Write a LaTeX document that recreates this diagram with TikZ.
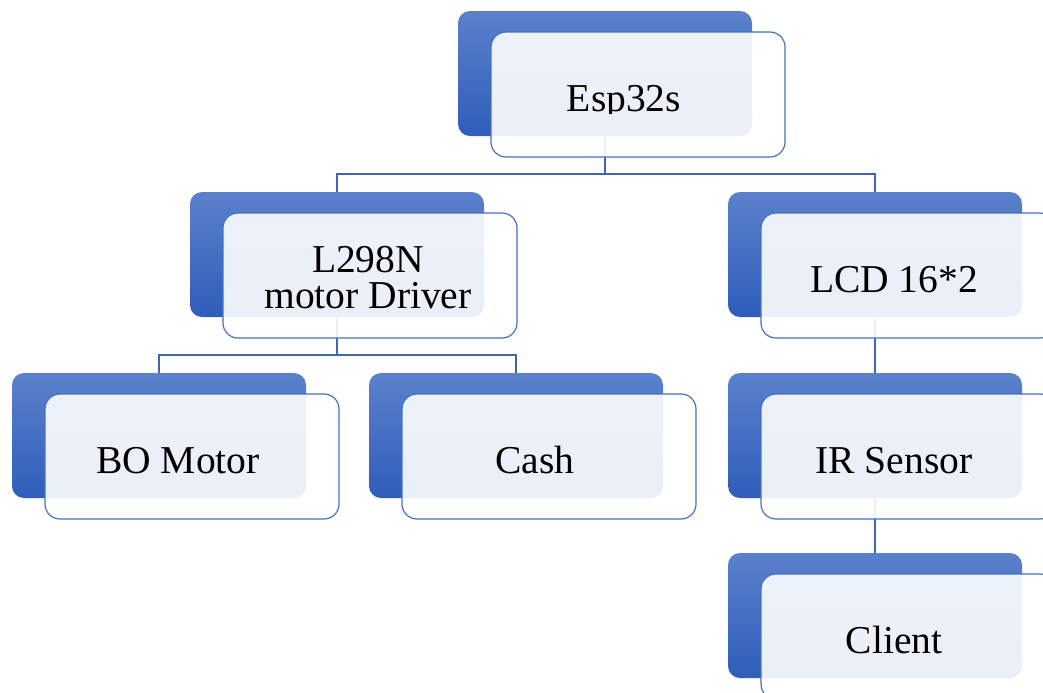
\documentclass[tikz,border=0pt]{standalone}
\usepackage{fontspec}
\setmainfont{Liberation Serif}
\usepackage{tikz}
\usetikzlibrary{calc,positioning}
\definecolor{smblue}  {HTML}{4472C4}
\definecolor{smtop}   {HTML}{5B81CB}
\definecolor{smbot}   {HTML}{2F5DBA}
\definecolor{smline}  {HTML}{3F64B0}
\tikzset{
  backbox/.style={minimum width=147pt, minimum height=62.5pt, inner sep=0pt,
    rounded corners=6pt, top color=smtop, bottom color=smbot, draw=none},
  frontbox/.style={minimum width=147pt, minimum height=62.5pt, inner sep=0pt,
    rounded corners=7.5pt, draw=smblue, line width=0.6pt, fill=white, fill opacity=0.9},
  boxtext/.style={anchor=base, inner sep=0pt, align=center,
    font=\fontsize{19.75}{18}\selectfont},
  link/.style={draw=smline, line width=0.6pt}
}
% [#1] text offset, #2 name, #3 #4 top left of the back box (px), #5 clip depth, #6 text
\newcommand{\smbox}[6][166]{%
  \node[backbox]  (#2)  at (#3+147,#4+62.5) {};
  \node[frontbox] (#2f) at (#3+180,#4+83.5) {};
  \begin{scope}
    \clip (#3,#4) rectangle ++(294,#5);
    \node[boxtext] (#2t) at (#3+#1,#4+#5-2) {#6};
  \end{scope}}

\begin{document}
\begin{tikzpicture}[x=0.5pt, y=-0.5pt]
  \useasboundingbox (0,0) rectangle (1043,692);
  \coordinate (espc) at (605,136);
  \coordinate (l298c) at (337,317);
  % connectors first, the boxes lie over them
  \draw[link] (espc) -- ++(0,38) -| (337,192);
  \draw[link] (espc) -- ++(0,38) -| (875,192);
  \draw[link] (l298c) -- ++(0,38) -| (159,373);
  \draw[link] (l298c) -- ++(0,38) -| (516,373);
  \draw[link] (875,317) -- (875,373);
  \draw[link] (875,498) -- (875,553);

  \smbox{esp}{458}{11}{102}{Esp32s}
  \smbox[178]{l298}{190}{192}{118}{L298N\\motor Driver}
  \smbox{lcd}{728}{192}{102}{LCD 16*2}
  \smbox{bo}{12}{373}{102}{BO Motor}
  \smbox{cash}{369}{373}{102}{Cash}
  \smbox{ir}{728}{373}{102}{IR Sensor}
  \smbox{client}{728}{553}{102}{Client}
\end{tikzpicture}
\end{document}
